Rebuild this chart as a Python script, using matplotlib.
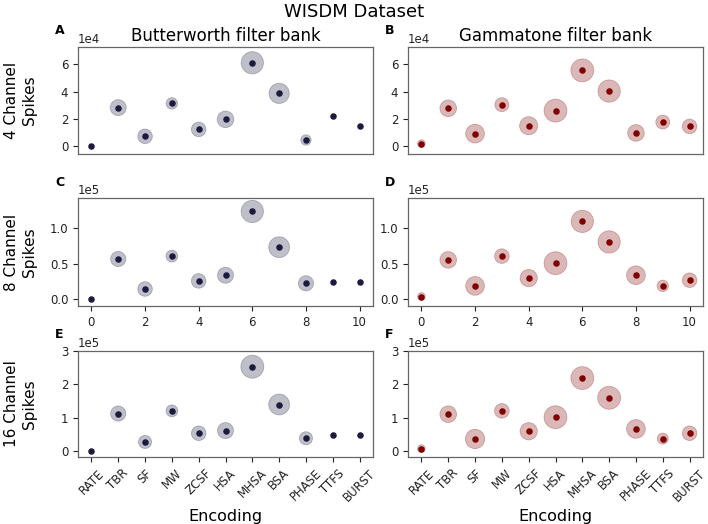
import matplotlib
matplotlib.use("Agg")
import matplotlib.pyplot as plt
import numpy as np

encodings = ["RATE", "TBR", "SF", "MW", "ZCSF", "HSA", "MHSA", "BSA", "PHASE", "TTFS", "BURST"]

# mean spike counts
bw4 = [0.0, 2.82e4, 0.71e4, 3.13e4, 1.22e4, 1.96e4, 6.12e4, 3.87e4, 0.44e4, 2.23e4, 1.49e4]
gt4 = [0.17e4, 2.77e4, 0.91e4, 3.04e4, 1.49e4, 2.60e4, 5.56e4, 4.04e4, 0.96e4, 1.76e4, 1.44e4]
bw8 = [0.0, 0.57e5, 0.146e5, 0.61e5, 0.26e5, 0.34e5, 1.24e5, 0.736e5, 0.226e5, 0.24e5, 0.25e5]
gt8 = [0.04e5, 0.557e5, 0.19e5, 0.61e5, 0.30e5, 0.51e5, 1.10e5, 0.81e5, 0.34e5, 0.19e5, 0.27e5]
bw16 = [0.0, 1.13e5, 0.28e5, 1.21e5, 0.54e5, 0.62e5, 2.53e5, 1.40e5, 0.39e5, 0.49e5, 0.49e5]
gt16 = [0.08e5, 1.11e5, 0.37e5, 1.21e5, 0.60e5, 1.02e5, 2.19e5, 1.60e5, 0.67e5, 0.38e5, 0.54e5]

# relative spread (halo) per encoding
bw4_spread = [0.0, 7.7, 7.0, 5.5, 7.0, 8.0, 10.7, 9.7, 5.0, 0.0, 0.0]
gt4_spread = [3.7, 8.0, 9.0, 6.7, 8.7, 11.0, 11.0, 10.7, 8.0, 6.7, 7.0]
bw8_spread = [0.0, 7.3, 7.0, 5.7, 7.0, 7.7, 10.7, 10.0, 7.3, 0.0, 0.0]
gt8_spread = [3.7, 8.0, 9.0, 7.0, 8.3, 11.0, 10.7, 10.7, 9.0, 5.5, 7.0]
bw16_spread = [0.0, 7.3, 6.3, 5.7, 7.0, 7.7, 11.0, 10.0, 6.3, 0.0, 0.0]
gt16_spread = [3.7, 8.0, 9.3, 7.0, 8.3, 11.0, 11.0, 11.0, 9.0, 5.3, 7.0]

row_labels = ["4 Channel\nSpikes", "8 Channel\nSpikes", "16 Channel\nSpikes"]
col_titles = ["Butterworth filter bank", "Gammatone filter bank"]
letters = ["A", "B", "C", "D", "E", "F"]

data = [[(bw4, bw4_spread), (gt4, gt4_spread)],
        [(bw8, bw8_spread), (gt8, gt8_spread)],
        [(bw16, bw16_spread), (gt16, gt16_spread)]]
ylims = [(-0.59e4, 7.28e4), (-0.094e5, 1.43e5), (-0.17e5, 3.0e5)]
col_colors = ["#1c1a3e", "#800000"]

W, H = 708, 524
fig = plt.figure(figsize=(W / 100, H / 100), dpi=100)

lefts = [78, 408]
width = 295
tops = [47, 198, 351]
bottoms = [154, 306, 457]

x = np.arange(len(encodings))
k = 0
for r in range(3):
    for c in range(2):
        ax = fig.add_axes([lefts[c] / W, 1 - bottoms[r] / H, width / W, (bottoms[r] - tops[r]) / H])
        vals, spread = data[r][c]
        col = col_colors[c]
        sizes = (1.5 * np.array(spread)) ** 2
        ax.scatter(x, vals, s=sizes, color=col, alpha=0.28, linewidths=0.6, zorder=2)
        ax.scatter(x, vals, s=22, color=col, zorder=3, linewidths=0)
        ax.set_ylim(*ylims[r])
        ax.set_xlim(-0.5, 10.5)
        ax.ticklabel_format(axis="y", style="sci", scilimits=(0, 0), useMathText=False)
        ax.yaxis.get_offset_text().set_fontsize(8.5)
        ax.tick_params(labelsize=8.5, colors="#222222", length=3.5, width=0.8)
        for sp in ax.spines.values():
            sp.set_color("#666666")
            sp.set_linewidth(0.9)
        if r == 0:
            ax.set_xticks([])
            ax.set_title(col_titles[c], fontsize=12, pad=4)
        elif r == 1:
            ax.set_xticks([0, 2, 4, 6, 8, 10])
        else:
            ax.set_xticks(x)
            ax.set_xticklabels(encodings, rotation=45, ha="center")
            ax.set_xlabel("Encoding", fontsize=11.5)
        if r == 2:
            ax.set_yticks([0, 1e5, 2e5, 3e5])
        if c == 0:
            ax.set_ylabel(row_labels[r], fontsize=11)
            ax.yaxis.set_label_coords(-0.14, 0.5)
        fig.text((lefts[c] - 23) / W, 1 - (tops[r] - 16) / H, letters[k],
                 fontsize=9, fontweight="bold", ha="left", va="center")
        k += 1

fig.text(0.5, 1 - 12 / H, "WISDM Dataset", fontsize=13, ha="center", va="center")

fig.savefig("out.png", dpi=100)
